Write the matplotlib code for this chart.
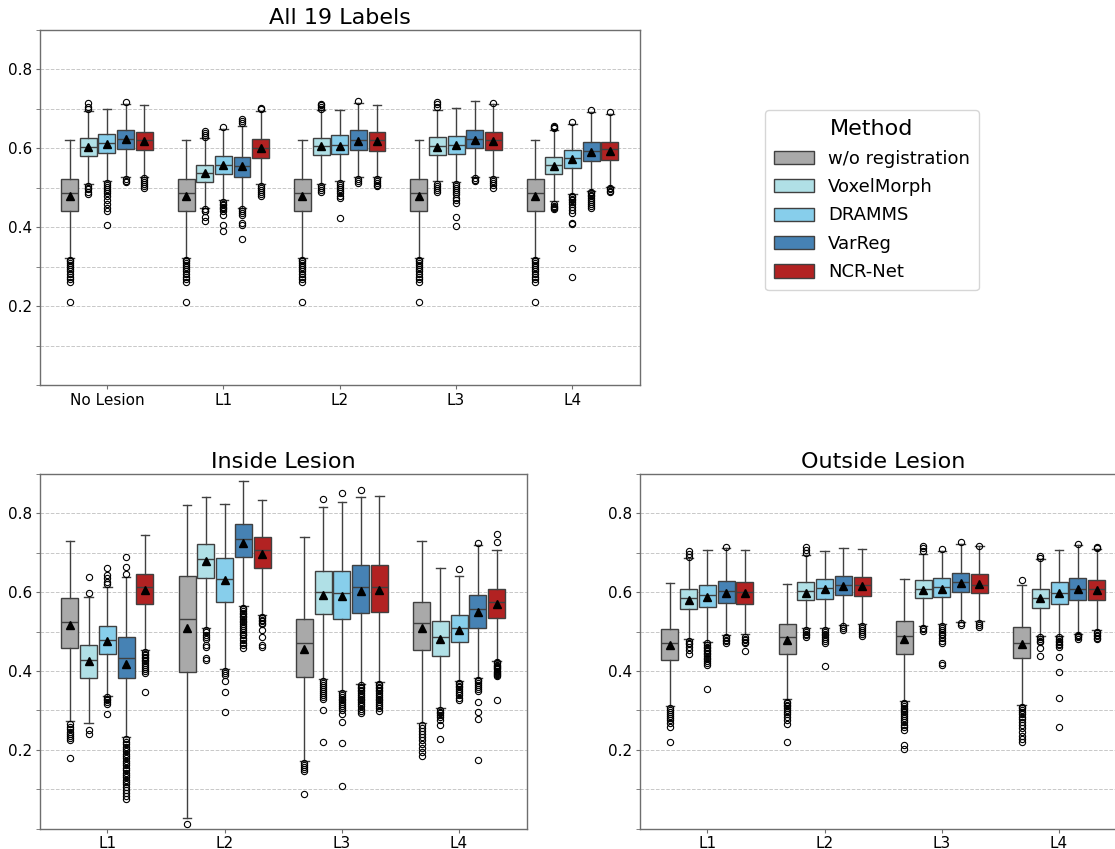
import matplotlib
matplotlib.use("Agg")
import matplotlib.pyplot as plt
from matplotlib.patches import Patch
from matplotlib.ticker import MultipleLocator

# ---------------------------------------------------------------- data
methods = ["w/o registration", "VoxelMorph", "DRAMMS", "VarReg", "NCR-Net"]
colors = ["#A9A9A9", "#B0E0E6", "#87CEEB", "#4682B4", "#B22222"]

all_groups = ["No Lesion", "L1", "L2", "L3", "L4"]
lesion_groups = ["L1", "L2", "L3", "L4"]

# Each statistic: rows = methods, columns = groups
# (whislo, q1, med, q3, whishi, mean)

# --- All 19 labels
all_whislo = [[0.323, 0.323, 0.323, 0.323, 0.323],
              [0.510, 0.449, 0.510, 0.516, 0.467],
              [0.516, 0.469, 0.516, 0.514, 0.484],
              [0.527, 0.450, 0.528, 0.528, 0.493],
              [0.528, 0.510, 0.528, 0.528, 0.503]]
all_q1 = [[0.442, 0.442, 0.442, 0.442, 0.442],
          [0.581, 0.515, 0.582, 0.582, 0.534],
          [0.589, 0.535, 0.586, 0.585, 0.550],
          [0.599, 0.528, 0.597, 0.600, 0.568],
          [0.596, 0.576, 0.594, 0.596, 0.570]]
all_med = [[0.486, 0.486, 0.486, 0.486, 0.486],
           [0.604, 0.538, 0.605, 0.605, 0.557],
           [0.613, 0.559, 0.608, 0.609, 0.575],
           [0.623, 0.554, 0.621, 0.624, 0.593],
           [0.621, 0.602, 0.621, 0.621, 0.598]]
all_q3 = [[0.522, 0.522, 0.522, 0.522, 0.522],
          [0.627, 0.559, 0.627, 0.629, 0.579],
          [0.637, 0.581, 0.633, 0.632, 0.595],
          [0.646, 0.579, 0.646, 0.646, 0.616],
          [0.642, 0.624, 0.641, 0.641, 0.617]]
all_whishi = [[0.621, 0.621, 0.621, 0.621, 0.621],
              [0.695, 0.625, 0.697, 0.697, 0.646],
              [0.700, 0.648, 0.697, 0.703, 0.661],
              [0.713, 0.657, 0.714, 0.719, 0.691],
              [0.710, 0.695, 0.710, 0.712, 0.687]]
all_mean = [[0.480, 0.480, 0.480, 0.480, 0.480],
            [0.604, 0.537, 0.605, 0.604, 0.555],
            [0.611, 0.557, 0.607, 0.608, 0.572],
            [0.623, 0.554, 0.619, 0.621, 0.591],
            [0.619, 0.600, 0.619, 0.619, 0.594]]
gray_fliers = [0.318, 0.314, 0.31, 0.305, 0.30, 0.295, 0.29, 0.282, 0.275,
               0.268, 0.26, 0.21]
all_fliers = [
    [gray_fliers, gray_fliers, gray_fliers, gray_fliers, gray_fliers],
    [[0.505, 0.50, 0.497, 0.49, 0.483, 0.70, 0.705, 0.714],
     [0.445, 0.442, 0.44, 0.425, 0.415, 0.63, 0.635, 0.64, 0.645],
     [0.505, 0.50, 0.495, 0.49, 0.70, 0.705, 0.71, 0.712],
     [0.51, 0.505, 0.50, 0.495, 0.49, 0.705, 0.712, 0.718],
     [0.46, 0.455, 0.452, 0.45, 0.447, 0.651, 0.654, 0.657]],
    [[0.512, 0.508, 0.503, 0.498, 0.493, 0.488, 0.48, 0.47, 0.46, 0.45, 0.44, 0.405],
     [0.465, 0.46, 0.456, 0.452, 0.448, 0.445, 0.44, 0.43, 0.405, 0.39, 0.655],
     [0.512, 0.508, 0.503, 0.498, 0.492, 0.486, 0.48, 0.473, 0.424],
     [0.51, 0.505, 0.50, 0.495, 0.49, 0.483, 0.475, 0.468, 0.462, 0.427, 0.403],
     [0.48, 0.476, 0.472, 0.468, 0.464, 0.46, 0.452, 0.444, 0.435, 0.41, 0.407,
      0.347, 0.275, 0.666]],
    [[0.522, 0.518, 0.514, 0.718],
     [0.445, 0.44, 0.435, 0.43, 0.41, 0.405, 0.37, 0.665, 0.67, 0.675],
     [0.523, 0.518, 0.512, 0.72],
     [0.524, 0.52, 0.516],
     [0.49, 0.486, 0.482, 0.478, 0.474, 0.47, 0.465, 0.46, 0.455, 0.45, 0.696]],
    [[0.524, 0.52, 0.515, 0.51, 0.505, 0.50],
     [0.505, 0.50, 0.495, 0.49, 0.485, 0.48, 0.70, 0.702],
     [0.523, 0.518, 0.513, 0.508, 0.504],
     [0.522, 0.517, 0.512, 0.507, 0.50, 0.716],
     [0.50, 0.497, 0.493, 0.49, 0.692]],
]

# --- Inside lesion
in_whislo = [[0.274, 0.027, 0.172, 0.269],
             [0.269, 0.508, 0.379, 0.305],
             [0.337, 0.406, 0.350, 0.375],
             [0.232, 0.565, 0.368, 0.382],
             [0.453, 0.543, 0.372, 0.425]]
in_q1 = [[0.457, 0.397, 0.385, 0.452],
         [0.381, 0.637, 0.544, 0.439],
         [0.442, 0.575, 0.532, 0.474],
         [0.383, 0.690, 0.547, 0.509],
         [0.570, 0.662, 0.550, 0.535]]
in_med = [[0.525, 0.531, 0.470, 0.522],
          [0.429, 0.683, 0.600, 0.487],
          [0.478, 0.633, 0.599, 0.509],
          [0.432, 0.736, 0.614, 0.556],
          [0.612, 0.707, 0.612, 0.574]]
in_q3 = [[0.584, 0.642, 0.532, 0.574],
         [0.467, 0.722, 0.655, 0.528],
         [0.513, 0.688, 0.653, 0.541],
         [0.486, 0.774, 0.668, 0.594],
         [0.647, 0.741, 0.669, 0.609]]
in_whishi = [[0.730, 0.821, 0.739, 0.729],
             [0.588, 0.842, 0.817, 0.662],
             [0.614, 0.825, 0.829, 0.641],
             [0.639, 0.882, 0.842, 0.719],
             [0.746, 0.835, 0.843, 0.708]]
in_mean = [[0.517, 0.508, 0.456, 0.509],
           [0.425, 0.678, 0.594, 0.481],
           [0.477, 0.630, 0.589, 0.504],
           [0.418, 0.725, 0.604, 0.550],
           [0.605, 0.697, 0.605, 0.570]]
in_fliers = [
    [[0.265, 0.258, 0.252, 0.246, 0.24, 0.235, 0.23, 0.225, 0.18],
     [0.012],
     [0.166, 0.161, 0.156, 0.151, 0.146, 0.088],
     [0.262, 0.255, 0.248, 0.24, 0.232, 0.224, 0.215, 0.205, 0.195, 0.185]],
    [[0.251, 0.241, 0.597, 0.638],
     [0.503, 0.498, 0.492, 0.486, 0.48, 0.465, 0.46, 0.433, 0.427],
     [0.375, 0.37, 0.365, 0.36, 0.355, 0.35, 0.345, 0.34, 0.335, 0.33, 0.301,
      0.22, 0.836],
     [0.30, 0.296, 0.292, 0.288, 0.284, 0.275, 0.262, 0.226]],
    [[0.333, 0.329, 0.325, 0.32, 0.315, 0.29, 0.62, 0.627, 0.635, 0.643, 0.662],
     [0.40, 0.395, 0.39, 0.374, 0.347, 0.296],
     [0.345, 0.34, 0.335, 0.33, 0.325, 0.32, 0.315, 0.31, 0.305, 0.30, 0.29,
      0.271, 0.216, 0.108, 0.853],
     [0.37, 0.366, 0.362, 0.358, 0.354, 0.35, 0.345, 0.338, 0.332, 0.326, 0.659]],
    [[0.226, 0.22, 0.214, 0.208, 0.202, 0.196, 0.19, 0.184, 0.178, 0.172, 0.166,
      0.16, 0.154, 0.148, 0.142, 0.136, 0.13, 0.124, 0.118, 0.112, 0.105, 0.098,
      0.09, 0.083, 0.075, 0.645, 0.665, 0.69],
     [0.56, 0.556, 0.552, 0.548, 0.544, 0.54, 0.536, 0.532, 0.528, 0.524, 0.52,
      0.515, 0.51, 0.505, 0.50, 0.495, 0.49, 0.484, 0.478, 0.472, 0.465, 0.458],
     [0.364, 0.36, 0.356, 0.352, 0.348, 0.344, 0.34, 0.335, 0.33, 0.325, 0.32,
      0.315, 0.31, 0.304, 0.298, 0.292, 0.86],
     [0.378, 0.374, 0.37, 0.365, 0.36, 0.355, 0.35, 0.32, 0.296, 0.278, 0.175,
      0.725]],
    [[0.448, 0.444, 0.44, 0.436, 0.432, 0.428, 0.424, 0.42, 0.415, 0.41, 0.405,
      0.40, 0.395, 0.346],
     [0.538, 0.534, 0.53, 0.526, 0.522, 0.518, 0.505, 0.487, 0.467, 0.461],
     [0.368, 0.364, 0.36, 0.356, 0.352, 0.348, 0.344, 0.34, 0.335, 0.33, 0.325,
      0.32, 0.315, 0.31, 0.305, 0.298],
     [0.422, 0.419, 0.416, 0.413, 0.41, 0.407, 0.404, 0.401, 0.398, 0.395,
      0.392, 0.389, 0.386, 0.327, 0.727, 0.747]],
]

# --- Outside lesion
out_whislo = [[0.311, 0.328, 0.323, 0.313],
              [0.480, 0.508, 0.514, 0.489],
              [0.474, 0.509, 0.518, 0.489],
              [0.492, 0.517, 0.525, 0.495],
              [0.493, 0.519, 0.527, 0.505]]
out_q1 = [[0.429, 0.442, 0.444, 0.432],
          [0.557, 0.579, 0.584, 0.561],
          [0.563, 0.582, 0.588, 0.571],
          [0.573, 0.592, 0.600, 0.580],
          [0.571, 0.590, 0.597, 0.580]]
out_med = [[0.470, 0.485, 0.489, 0.472],
           [0.586, 0.603, 0.607, 0.586],
           [0.592, 0.610, 0.612, 0.599],
           [0.602, 0.617, 0.625, 0.609],
           [0.601, 0.618, 0.618, 0.608]]
out_q3 = [[0.507, 0.520, 0.526, 0.511],
          [0.609, 0.625, 0.630, 0.609],
          [0.619, 0.634, 0.635, 0.626],
          [0.628, 0.641, 0.649, 0.635],
          [0.625, 0.639, 0.645, 0.630]]
out_whishi = [[0.623, 0.621, 0.634, 0.619],
              [0.686, 0.694, 0.698, 0.684],
              [0.706, 0.704, 0.705, 0.706],
              [0.711, 0.713, 0.722, 0.719],
              [0.707, 0.709, 0.716, 0.709]]
out_mean = [[0.466, 0.478, 0.482, 0.469],
            [0.581, 0.599, 0.606, 0.585],
            [0.588, 0.608, 0.609, 0.597],
            [0.599, 0.615, 0.624, 0.607],
            [0.598, 0.615, 0.620, 0.605]]
out_fliers = [
    [[0.305, 0.30, 0.295, 0.29, 0.285, 0.28, 0.275, 0.268, 0.258, 0.219],
     [0.322, 0.318, 0.314, 0.31, 0.305, 0.30, 0.295, 0.29, 0.283, 0.275, 0.265,
      0.219],
     [0.319, 0.315, 0.311, 0.307, 0.303, 0.299, 0.295, 0.29, 0.285, 0.28, 0.275,
      0.27, 0.264, 0.258, 0.251, 0.211, 0.201],
     [0.309, 0.305, 0.30, 0.295, 0.29, 0.284, 0.278, 0.27, 0.262, 0.254, 0.245,
      0.236, 0.228, 0.22, 0.631]],
    [[0.476, 0.472, 0.468, 0.46, 0.452, 0.444, 0.69, 0.698, 0.705],
     [0.504, 0.50, 0.495, 0.49, 0.485, 0.70, 0.708, 0.714],
     [0.51, 0.506, 0.502, 0.705, 0.712, 0.718],
     [0.485, 0.481, 0.477, 0.473, 0.457, 0.437, 0.688, 0.692]],
    [[0.47, 0.466, 0.462, 0.458, 0.454, 0.45, 0.446, 0.442, 0.438, 0.434, 0.43,
      0.425, 0.42, 0.415, 0.353],
     [0.505, 0.50, 0.495, 0.49, 0.485, 0.48, 0.475, 0.47, 0.413],
     [0.514, 0.51, 0.505, 0.50, 0.495, 0.49, 0.483, 0.476, 0.47, 0.419, 0.415,
      0.709],
     [0.485, 0.481, 0.477, 0.473, 0.469, 0.465, 0.46, 0.436, 0.398, 0.331, 0.258]],
    [[0.487, 0.483, 0.479, 0.475, 0.471, 0.715],
     [0.513, 0.509, 0.505],
     [0.521, 0.517, 0.727],
     [0.491, 0.488, 0.485, 0.482, 0.722]],
    [[0.486, 0.482, 0.478, 0.474, 0.47, 0.45],
     [0.515, 0.51, 0.505, 0.50, 0.495, 0.489],
     [0.522, 0.517, 0.512, 0.718],
     [0.50, 0.496, 0.492, 0.488, 0.484, 0.48, 0.712, 0.714]],
]

# ---------------------------------------------------------------- style
LINE = "#404040"
SPINE = "#6e6e6e"
BOX_STEP = 0.16
BOX_WIDTH = 0.145

plt.rcParams["font.family"] = ["DejaVu Sans"]

fig = plt.figure(figsize=(11.15, 8.49), dpi=100)


def draw_panel(ax, title, groups, whislo, q1, med, q3, whishi, mean, fliers):
    n_groups = len(groups)
    for m, color in enumerate(colors):
        stats = []
        for g in range(n_groups):
            stats.append(dict(whislo=whislo[m][g], q1=q1[m][g], med=med[m][g],
                              q3=q3[m][g], whishi=whishi[m][g],
                              mean=mean[m][g], fliers=fliers[m][g]))
        positions = [g + (m - 2) * BOX_STEP for g in range(n_groups)]
        ax.bxp(stats, positions=positions, widths=BOX_WIDTH,
               patch_artist=True, showmeans=True, manage_ticks=False,
               boxprops=dict(facecolor=color, edgecolor=LINE, linewidth=1.0),
               medianprops=dict(color=LINE, linewidth=1.0),
               whiskerprops=dict(color=LINE, linewidth=1.0),
               capprops=dict(color=LINE, linewidth=1.0),
               capwidths=BOX_WIDTH * 0.5,
               meanprops=dict(marker="^", markerfacecolor="black",
                              markeredgecolor="black", markersize=5.5),
               flierprops=dict(marker="o", markerfacecolor="none",
                               markeredgecolor="black", markersize=4.5,
                               markeredgewidth=0.8))
    ax.set_xticks(range(n_groups))
    ax.set_xticklabels(groups)
    ax.set_xlim(-0.575, n_groups - 1 + 0.58)
    ax.set_ylim(0.0, 0.9)
    ax.yaxis.set_major_locator(MultipleLocator(0.2))
    ax.yaxis.set_minor_locator(MultipleLocator(0.1))
    ax.set_yticks([0.2, 0.4, 0.6, 0.8])
    ax.tick_params(axis="both", which="major", labelsize=11, length=3,
                   pad=2.5, color=SPINE)
    ax.tick_params(axis="y", which="minor", length=3, color=SPINE)
    ax.grid(axis="y", which="both", linestyle="--", color="#c8c8c8",
            linewidth=0.7)
    ax.set_axisbelow(True)
    for sp in ax.spines.values():
        sp.set_color(SPINE)
        sp.set_linewidth(1.0)
    ax.set_title(title, fontsize=16, pad=4)


W, H = 1115.0, 849.0
ax_all = fig.add_axes([40 / W, 1 - 385 / H, 600 / W, 355 / H])
ax_in = fig.add_axes([40 / W, 1 - 828.5 / H, 487 / W, 354.5 / H])
ax_out = fig.add_axes([640 / W, 1 - 828.5 / H, 487 / W, 354.5 / H])

draw_panel(ax_all, "All 19 Labels", all_groups, all_whislo, all_q1, all_med,
           all_q3, all_whishi, all_mean, all_fliers)
draw_panel(ax_in, "Inside Lesion", lesion_groups, in_whislo, in_q1, in_med,
           in_q3, in_whishi, in_mean, in_fliers)
draw_panel(ax_out, "Outside Lesion", lesion_groups, out_whislo, out_q1,
           out_med, out_q3, out_whishi, out_mean, out_fliers)

handles = [Patch(facecolor=c, edgecolor=LINE, linewidth=1.0) for c in colors]
fig.legend(handles, methods, title="Method", loc="upper left",
           bbox_to_anchor=(765 / W, 1 - 110 / H), borderaxespad=0.0,
           fontsize=13, title_fontsize=16, handlelength=2.2,
           handleheight=0.75, handletextpad=0.8, frameon=True,
           borderpad=0.5, labelspacing=0.58)

fig.savefig("out.png", dpi=100)
